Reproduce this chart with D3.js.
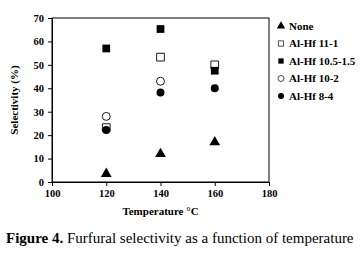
<!DOCTYPE html>
<html>
<head>
<meta charset="utf-8">
<script src="https://cdn.jsdelivr.net/npm/d3@7"></script>
<style>
  body { margin: 0; background: #fff; }
  text { font-family: "Liberation Serif", "Times New Roman", serif; fill: #000; }
</style>
</head>
<body>
<script>
var temps = [120, 140, 160];
var seriesNames = ["None", "Al-Hf 11-1", "Al-Hf 10.5-1.5", "Al-Hf 10-2", "Al-Hf 8-4"];
var none = [3.5, 12, 17];
var alhf11_1 = [23.2, 53.3, 50];
var alhf105_15 = [57, 65.3, 47.5];
var alhf10_2 = [28, 43, null];
var alhf8_4 = [22.2, 38.2, 40];
var xTicks = [100, 120, 140, 160, 180];
var yTicks = [0, 10, 20, 30, 40, 50, 60, 70];

var series = [
  {name: seriesNames[0], values: none, shape: d3.symbolTriangle, fill: "#000"},
  {name: seriesNames[1], values: alhf11_1, shape: d3.symbolSquare, fill: "#fff"},
  {name: seriesNames[2], values: alhf105_15, shape: d3.symbolSquare, fill: "#000"},
  {name: seriesNames[3], values: alhf10_2, shape: d3.symbolCircle, fill: "#fff"},
  {name: seriesNames[4], values: alhf8_4, shape: d3.symbolCircle, fill: "#000"}
];

var width = 364, height = 257;
var margin = {top: 18, left: 52, right: 95, bottom: 75};

var x = d3.scaleLinear().domain([100, 180]).range([margin.left, width - margin.right]);
var y = d3.scaleLinear().domain([0, 70]).range([height - margin.bottom, margin.top]);

var svg = d3.select("body").append("svg")
    .attr("width", width)
    .attr("height", height);

// frame
svg.append("rect")
    .attr("x", x(100)).attr("y", y(70))
    .attr("width", x(180) - x(100)).attr("height", y(0) - y(70))
    .attr("fill", "none").attr("stroke", "#000").attr("stroke-width", 1);

var xAxis = svg.append("g")
    .attr("transform", "translate(0," + y(0) + ")")
    .call(d3.axisBottom(x).tickValues(xTicks).tickSize(4).tickSizeOuter(0).tickPadding(4));
var yAxis = svg.append("g")
    .attr("transform", "translate(" + x(100) + ",0)")
    .call(d3.axisLeft(y).tickValues(yTicks).tickSize(4).tickSizeOuter(0).tickPadding(4));

[xAxis, yAxis].forEach(function(a) {
  a.selectAll("text").style("font-size", "10.5px").style("font-weight", "bold")
      .style("font-family", "'Liberation Serif', serif");
  a.selectAll("path, line").attr("stroke", "#000");
});

// axis titles
svg.append("text")
    .attr("x", (x(100) + x(180)) / 2)
    .attr("y", 215)
    .attr("text-anchor", "middle")
    .style("font-size", "11px").style("font-weight", "bold")
    .text("Temperature °C");

svg.append("text")
    .attr("transform", "translate(18," + ((y(0) + y(70)) / 2) + ")rotate(-90)")
    .attr("text-anchor", "middle")
    .style("font-size", "11px").style("font-weight", "bold")
    .text("Selectivity (%)");

// points
series.forEach(function(s) {
  var pts = temps.map(function(t, i) { return {t: t, v: s.values[i]}; })
      .filter(function(d) { return d.v != null; });
  svg.append("g").selectAll("path")
      .data(pts)
    .enter().append("path")
      .attr("transform", function(d) { return "translate(" + x(d.t) + "," + y(d.v) + ")"; })
      .attr("d", d3.symbol().type(s.shape).size(s.shape === d3.symbolSquare ? 60 : 50))
      .attr("fill", s.fill)
      .attr("stroke", "#000")
      .attr("stroke-width", s.fill === "#fff" ? 0.9 : 0);
});

// legend
var legend = svg.append("g").selectAll("g")
    .data(series)
  .enter().append("g")
    .attr("transform", function(d, i) { return "translate(281," + (26 + i * 17.5) + ")"; });

legend.append("path")
    .attr("d", function(d) { return d3.symbol().type(d.shape).size(d.shape === d3.symbolTriangle ? 30 : 28)(); })
    .attr("fill", function(d) { return d.fill; })
    .attr("stroke", "#000")
    .attr("stroke-width", function(d) { return d.fill === "#fff" ? 0.7 : 0; });

legend.append("text")
    .attr("x", 8)
    .attr("dy", "0.35em")
    .style("font-size", "11px").style("font-weight", "bold")
    .text(function(d) { return d.name; });

// caption
var cap = svg.append("text")
    .attr("x", 6)
    .attr("y", 243)
    .style("font-size", "15px");
cap.append("tspan").style("font-weight", "bold").text("Figure 4.");
cap.append("tspan").text(" Furfural selectivity as a function of temperature");
</script>
</body>
</html>
